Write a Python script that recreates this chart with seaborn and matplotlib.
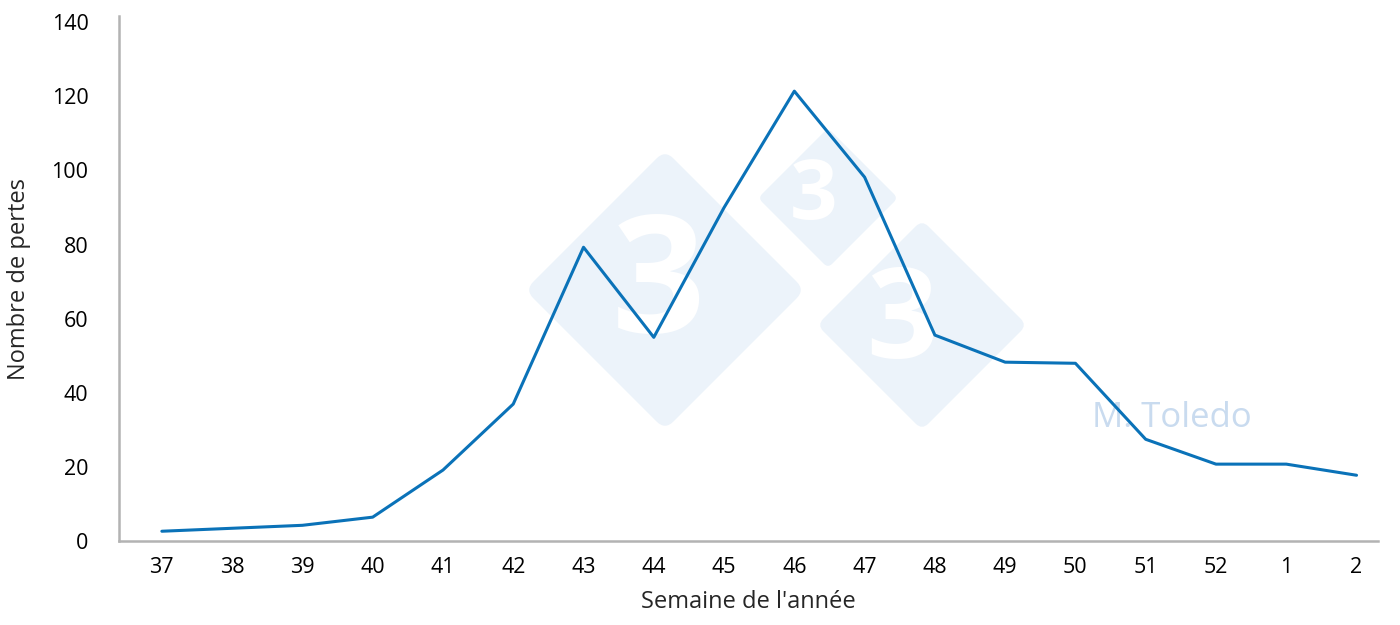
import matplotlib
matplotlib.use("Agg")
import matplotlib.pyplot as plt
import seaborn as sns
import pandas as pd
from matplotlib.patches import FancyBboxPatch
import matplotlib.transforms as mtransforms

# weeks of the year (season runs over new year)
weeks = ["37", "38", "39", "40", "41", "42", "43", "44", "45",
         "46", "47", "48", "49", "50", "51", "52", "1", "2"]
losses = [2.7, 3.5, 4.3, 6.5, 19.2, 37.0, 79.3, 55.0, 90.0,
          121.4, 98.2, 55.6, 48.3, 48.0, 27.5, 20.8, 20.8, 17.8]

df = pd.DataFrame({"week": weeks, "losses": losses})
df["pos"] = range(len(df))

sns.set_theme(style="white")
plt.rcParams['font.family'] = ['Open Sans', 'DejaVu Sans']

fig = plt.figure(figsize=(14, 6.25), dpi=100)
ax = fig.add_axes([0.085, 0.134, 0.899, 0.84])
ax.set_zorder(5)
ax.patch.set_alpha(0)

# watermark diamonds (figure pixel coords, behind the axes)
wm_color = "#ecf3fa"
def diamond(cx, cy, half, label_size, dx):
    side = half * 1.414
    box = FancyBboxPatch((-side / 2, -side / 2), side, side,
                         boxstyle="round,pad=0,rounding_size=%f" % (side * 0.06),
                         facecolor=wm_color, edgecolor="none", zorder=0)
    box.set_transform(mtransforms.Affine2D().rotate_deg(45).translate(cx, 625 - cy))
    fig.patches.append(box)
    fig.text((cx + dx) / 1400, 1 - cy / 625, "3", color="white", fontsize=label_size,
             fontweight="bold", ha="center", va="center", zorder=1)

diamond(665, 290, 140, 118, -6)
diamond(828, 198, 70, 60, -14)
diamond(922, 325, 105, 90, -20)
fig.text(1172 / 1400, 1 - 418 / 625, "M. Toledo", color="#c9dbef",
         fontsize=25, ha="center", va="center", zorder=1)

sns.lineplot(data=df, x="pos", y="losses", ax=ax, color="#0a72b8",
             linewidth=2.2, zorder=3)

ax.set_xlim(-0.61, 17.3)
ax.set_ylim(0, 141.6)
ax.set_xticks(df["pos"])
ax.set_xticklabels(weeks)
ax.set_yticks(range(0, 141, 20))
ax.tick_params(axis="both", labelsize=15.5, colors="black", length=0)
ax.tick_params(axis="x", pad=11)
ax.tick_params(axis="y", pad=22)

ax.set_xlabel("Semaine de l'année", fontsize=17, labelpad=9)
ax.set_ylabel("Nombre de pertes", fontsize=17, labelpad=15)

for side in ["top", "right"]:
    ax.spines[side].set_visible(False)
for side in ["left", "bottom"]:
    ax.spines[side].set_color("#b3b3b3")
    ax.spines[side].set_linewidth(1.8)

fig.savefig("out.png", dpi=100)
